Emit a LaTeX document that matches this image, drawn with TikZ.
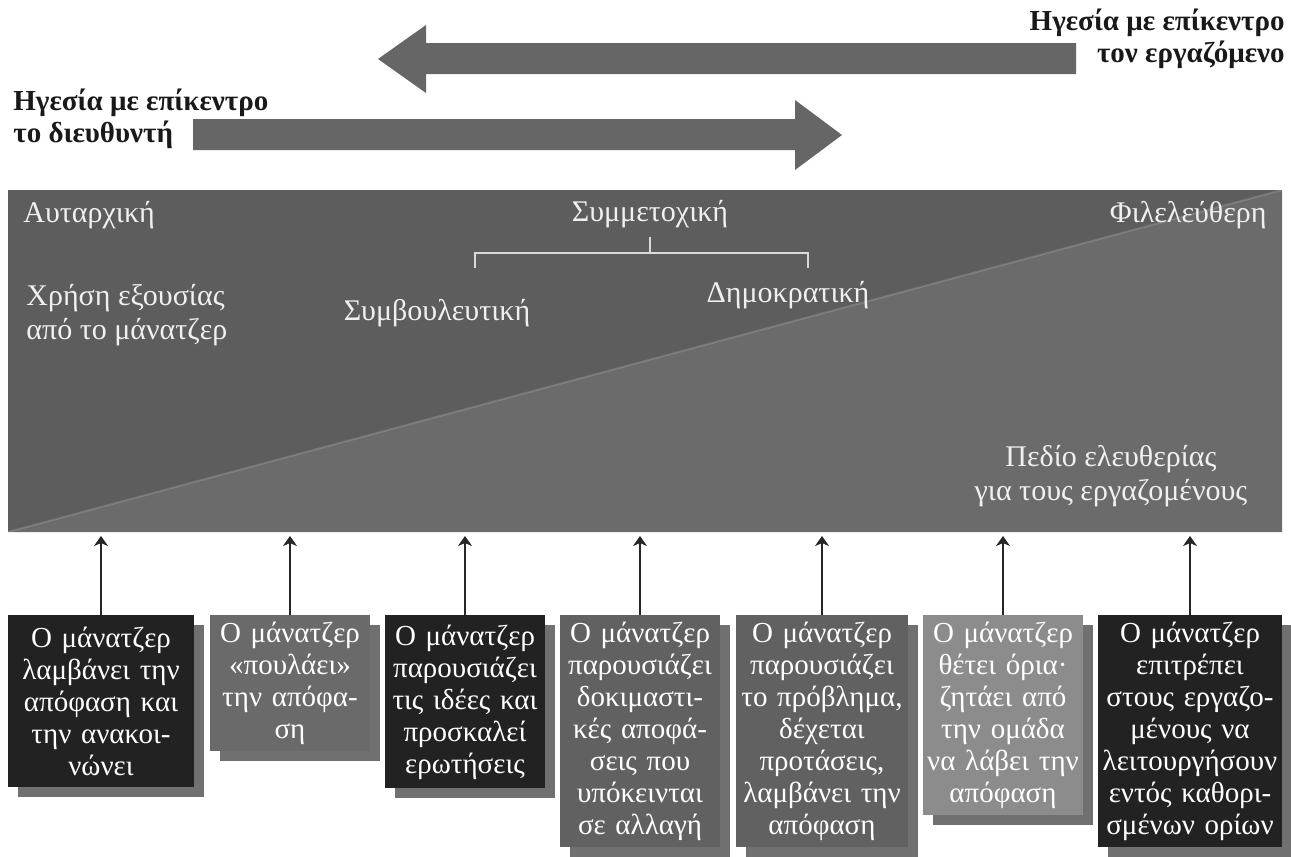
\documentclass[tikz,border=0pt]{standalone}
\usepackage{fontspec}
\setmainfont{Liberation Serif}
\usetikzlibrary{arrows.meta,shadows}
\definecolor{arrowgray}{HTML}{666666}
\definecolor{paneldark}{HTML}{5D5D5D}
\definecolor{panellight}{HTML}{6B6B6B}
\definecolor{boxblack}{HTML}{222222}
\definecolor{boxmid}{HTML}{6A6A6A}
\definecolor{boxgray}{HTML}{616161}
\definecolor{boxlight}{HTML}{8C8C8C}
\begin{document}
\begin{tikzpicture}[x=0.5pt, y=-0.5pt]
 \tikzset{lead/.style={font=\bfseries\fontsize{14.5}{16}\selectfont, text=black!90, inner sep=0pt}}
 \tikzset{kind/.style={text=white!94!black, font=\fontsize{15}{17}\selectfont, inner sep=0pt}}
 \tikzset{choice/.style={text=white, font=\fontsize{14.5}{16}\selectfont, align=center, anchor=north,
   inner xsep=0pt, drop shadow={shadow xshift=5pt, shadow yshift=-5pt, fill=black!75, opacity=0.75}}}
 \tikzset{directed/.style={-{Stealth[length=5pt, width=7pt, inset=1.5pt]}, line width=0.9pt, black!85}}
 \useasboundingbox (0,0) rectangle (1291,857);
  % top arrows
  \fill[arrowgray] (378,59) -- (426,25) -- (426,43) -- (1076,43) -- (1076,74) -- (426,74) -- (426,93) -- cycle;
  \fill[arrowgray] (842,135) -- (795,100) -- (795,119) -- (193,119) -- (193,150) -- (795,150) -- (795,170) -- cycle;
  \node[lead, anchor=east, align=right] (E) at (1285,39) {Ηγεσία με επίκεντρο\\τον εργαζόμενο};
  \node[lead, anchor=west, align=left] (M) at (13,119) {Ηγεσία με επίκεντρο\\το διευθυντή};
  % panel
  \coordinate (pNW) at (8,190);
  \coordinate (pSE) at (1282,532);
  \coordinate (pB) at (0,536);
  \fill[paneldark] (pNW) rectangle (pSE);
  \fill[panellight] (8,532) -- (1282,190) -- (1282,532) -- cycle;
  \draw[white, opacity=0.15, line width=1pt] (8,532) -- (1282,190);
  \node[kind, anchor=west] (aut) at (23,215) {Αυταρχική};
  \node[kind] (sym) at (650,214) {Συμμετοχική};
  \node[kind, anchor=east] (lib) at (1267,215) {Φιλελεύθερη};
  \node[kind, anchor=west, align=left] (pow) at (26,315) {Χρήση εξουσίας\\από το μάνατζερ};
  \node[kind] (con) at (437,313) {Συμβουλευτική};
  \node[kind] (dem) at (788,295) {Δημοκρατική};
  \node[kind, align=center] (free) at (1111,476) {Πεδίο ελευθερίας\\για τους εργαζομένους};
  \draw[white!85!black, line width=0.8pt] (650,237) -- (650,253);
  \draw[white!85!black, line width=0.8pt] (475,268) -- (475,253) -- (808,253) -- (808,268);
  % boxes
  \node[choice, fill=boxblack, text width=93pt, minimum height=86pt] (b1) at (101,615)
    {Ο μάνατζερ\\λαμβάνει την\\απόφαση και\\την ανακοι-\\νώνει};
  \node[choice, fill=boxmid, text width=80pt, minimum height=66.5pt] (b2) at (290,615)
    {Ο μάνατζερ\\«πουλάει»\\την απόφα-\\ση};
  \node[choice, fill=boxblack, text width=80pt, minimum height=86.5pt] (b3) at (465,615)
    {Ο μάνατζερ\\παρουσιάζει\\τις ιδέες και\\προσκαλεί\\ερωτήσεις};
  \node[choice, fill=boxgray, text width=80pt, minimum height=114pt] (b4) at (640,615)
    {Ο μάνατζερ\\παρουσιάζει\\δοκιμαστι-\\κές αποφά-\\σεις που\\υπόκεινται\\σε αλλαγή};
  \node[choice, fill=boxgray, text width=86pt, minimum height=113.5pt] (b5) at (822,615)
    {Ο μάνατζερ\\παρουσιάζει\\το πρόβλημα,\\δέχεται\\προτάσεις,\\λαμβάνει την\\απόφαση};
  \node[choice, fill=boxlight, text width=80pt, minimum height=98.5pt] (b6) at (1003,615)
    {Ο μάνατζερ\\θέτει όρια·\\ζητάει από\\την ομάδα\\να λάβει την\\απόφαση};
  \node[choice, fill=boxblack, text width=92pt, minimum height=116pt] (b7) at (1190,615)
    {Ο μάνατζερ\\επιτρέπει\\στους εργαζο-\\μένους να\\λειτουργήσουν\\εντός καθορι-\\σμένων ορίων};
  % arrows up to the panel
  \foreach \b in {b1,b2,b3,b4,b5,b6,b7}
    \draw[directed] (\b) -- (\b |- pB);
\end{tikzpicture}
\end{document}
